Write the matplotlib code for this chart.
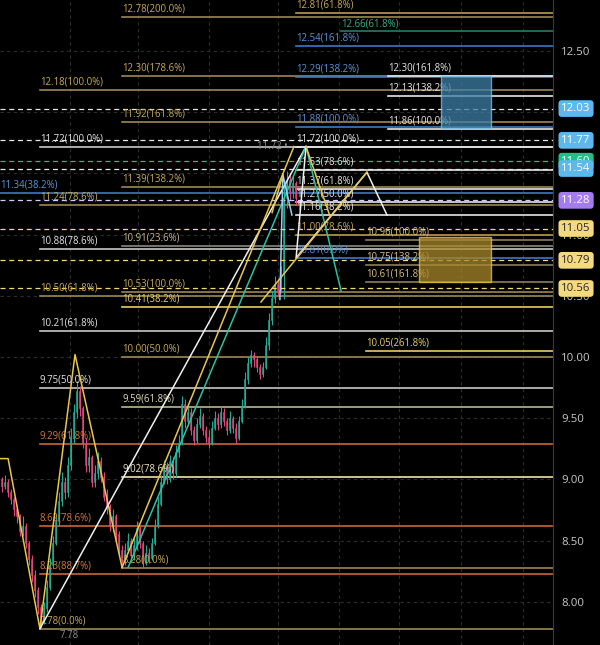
import matplotlib
matplotlib.use("Agg")
import matplotlib.pyplot as plt
from matplotlib.patches import Rectangle

plt.rcParams['font.family'] = ['Open Sans', 'DejaVu Sans']

# ---- candles (one bar = 3 px of the chart) ----
closes = [8.95, 8.98, 8.90, 8.84, 8.76, 8.70, 8.58, 8.62, 8.48, 8.35,
          8.22, 8.10, 7.96, 7.84, 7.95, 8.12, 8.30, 8.48, 8.66, 8.82,
          8.98, 8.90, 9.12, 9.35, 9.55, 9.72, 9.58, 9.30, 9.12, 9.18,
          8.98, 9.05, 9.15, 9.02, 8.86, 8.78, 8.62, 8.70, 8.55, 8.42,
          8.34, 8.42, 8.50, 8.38, 8.46, 8.60, 8.48, 8.32, 8.40, 8.36,
          8.48, 8.62, 8.80, 8.98, 9.10, 9.00, 9.15, 9.05, 9.22, 9.30,
          9.62, 9.48, 9.55, 9.40, 9.32, 9.45, 9.52, 9.40, 9.35, 9.30,
          9.42, 9.50, 9.45, 9.55, 9.48, 9.40, 9.50, 9.42, 9.34, 9.48,
          9.60, 9.82, 9.95, 10.02, 9.98, 9.92, 9.86, 9.92, 10.10, 10.30,
          10.48, 10.60, 10.55, 10.68, 11.30, 11.45, 11.35, 11.42, 11.30]
highs = [9.02, 9.04, 9.00, 8.92, 8.86, 8.78, 8.72, 8.70, 8.64, 8.50,
         8.38, 8.26, 8.12, 7.98, 8.00, 8.18, 8.36, 8.54, 8.72, 8.90,
         9.06, 9.02, 9.18, 9.42, 9.62, 9.80, 9.76, 9.60, 9.34, 9.26,
         9.20, 9.12, 9.22, 9.18, 9.06, 8.92, 8.80, 8.76, 8.72, 8.58,
         8.46, 8.48, 8.56, 8.52, 8.52, 8.66, 8.62, 8.50, 8.46, 8.44,
         8.52, 8.68, 8.86, 9.04, 9.16, 9.14, 9.20, 9.18, 9.28, 9.36,
         9.68, 9.66, 9.60, 9.58, 9.44, 9.50, 9.58, 9.54, 9.44, 9.40,
         9.48, 9.56, 9.54, 9.60, 9.58, 9.50, 9.56, 9.52, 9.46, 9.52,
         9.66, 9.88, 10.00, 10.06, 10.04, 10.00, 9.94, 9.96, 10.16, 10.36,
         10.54, 10.66, 10.64, 10.74, 11.40, 11.52, 11.50, 11.48, 11.44]
lows = [8.90, 8.92, 8.86, 8.80, 8.70, 8.64, 8.54, 8.54, 8.44, 8.30,
        8.16, 8.04, 7.90, 7.78, 7.82, 7.92, 8.10, 8.28, 8.46, 8.62,
        8.78, 8.84, 8.86, 9.08, 9.30, 9.50, 9.52, 9.26, 9.06, 9.06,
        8.94, 8.94, 9.00, 8.98, 8.82, 8.72, 8.58, 8.58, 8.50, 8.38,
        8.28, 8.30, 8.40, 8.34, 8.34, 8.42, 8.44, 8.28, 8.30, 8.32,
        8.34, 8.46, 8.60, 8.78, 8.96, 8.96, 8.98, 9.00, 9.02, 9.18,
        9.28, 9.42, 9.44, 9.36, 9.28, 9.30, 9.42, 9.36, 9.30, 9.26,
        9.28, 9.40, 9.40, 9.42, 9.44, 9.36, 9.38, 9.38, 9.30, 9.32,
        9.46, 9.58, 9.78, 9.92, 9.92, 9.88, 9.82, 9.84, 9.90, 10.06,
        10.26, 10.44, 10.50, 10.52, 10.47, 11.22, 11.28, 11.30, 11.24]
first_open = 9.00

# ---- fibonacci tools: start bar, levels (price, pct) ----
fib_left_white = (13.3, [(11.72, "100.0%"), (10.88, "78.6%"), (10.21, "61.8%"), (9.75, "50.0%")])
fib_left_gold = (13.3, [(12.18, "100.0%"), (11.24, "78.6%"), (10.50, "61.8%"), (7.78, "0.0%")])
fib_left_orange = (13.3, [(9.29, "61.8%"), (8.62, "78.6%"), (8.23, "88.7%")])
fib_mid_gold = (40.7, [(12.78, "200.0%"), (12.30, "178.6%"), (11.92, "161.8%"), (11.39, "138.2%"),
                       (10.53, "100.0%"), (10.00, "50.0%"), (8.28, "0.0%")])
fib_mid_grey = (40.7, [(10.91, "23.6%")])
fib_mid_yellow = (40.7, [(10.41, "38.2%")])
fib_mid_khaki = (40.7, [(9.59, "61.8%")])
fib_mid_cream = (40.7, [(9.02, "78.6%")])
fib_far_blue = (0.0, [(11.34, "38.2%")])
fib_peak_blue = (98.7, [(12.54, "161.8%"), (12.29, "138.2%"), (11.88, "100.0%"), (10.81, "0.0%")])
fib_peak_white = (98.7, [(11.72, "100.0%"), (11.53, "78.6%"), (11.37, "61.8%"), (11.27, "50.0%"),
                         (11.16, "38.2%")])
fib_peak_gold = (98.7, [(12.81, "61.8%"), (11.00, "78.6%")])
fib_teal = (113.7, [(12.66, "61.8%")])
fib_proj_white = (129.3, [(12.30, "161.8%"), (12.13, "138.2%"), (11.86, "100.0%")])
fib_proj_tan = (122.0, [(10.96, "100.0%"), (10.75, "138.2%"), (10.61, "161.8%")])
fib_proj_yellow = (122.0, [(10.05, "261.8%")])

# ---- alert / price lines ----
alert_prices = [12.03, 11.77, 11.60, 11.54, 11.28, 11.05, 10.79, 10.56]
alert_kinds = ["blue", "blue", "green", "blue", "purple", "yellow", "yellow", "yellow"]

# ---- pattern drawings (bar, price) ----
zigzag_left = [(0.0, 9.17), (2.7, 9.17), (13.3, 7.78), (25.0, 10.02), (40.7, 8.28)]
leg_white = [(13.3, 7.78), (102.0, 11.72)]
leg_yellow = [(40.7, 8.28), (98.0, 11.72)]
leg_teal = [(42.7, 8.28), (102.0, 11.72), (113.7, 10.54)]
proj_white = [(102.0, 11.72), (98.7, 10.81), (122.3, 11.51), (129.0, 11.16)]
proj_yellow = [(87.0, 10.45), (122.3, 11.51)]
spike_blue = [(93.3, 10.47), (94.3, 11.49), (97.3, 11.16)]
spike_yellow = [(90.7, 11.18), (94.3, 11.49)]
peak_down_yellow = [(102.0, 11.72), (110.0, 11.15)]

box_blue = (147.0, 163.7, 11.87, 12.30)
box_gold = (139.7, 163.7, 10.61, 10.98)

grid_prices = [12.50, 12.00, 11.50, 11.00, 10.50, 10.00, 9.50, 9.00, 8.50, 8.00]
right_ticks = [12.50, 11.00, 10.50, 10.00, 9.50, 9.00, 8.50, 8.00]
time_grid = [23.3, 46.0, 69.7, 92.7, 113.0, 133.0, 153.7, 174.3]

BG = "black"
UP = "#22ab94"
DN = "#e0457b"
fig = plt.figure(figsize=(6, 6.45), dpi=100, facecolor=BG)
ax = fig.add_axes([0, 0, 553 / 600, 1])
ax.set_facecolor(BG)
x_max = 553 / 3
ax.set_xlim(0, x_max)
ax.set_ylim(7.647, 12.917)

for t in grid_prices:
    ax.axhline(t, color="#2c2c2c", lw=0.8, ls=(0, (3, 3)), zorder=0)
for t in time_grid:
    ax.axvline(t, color="#2c2c2c", lw=0.8, ls=(0, (3, 3)), zorder=0)

# candles
opens = [first_open] + closes[:-1]
for i, (o, c, h, l) in enumerate(zip(opens, closes, highs, lows)):
    col = UP if c >= o else DN
    xc = i + 0.5
    ax.vlines(xc, l, h, color=col, lw=0.8, zorder=3)
    ax.add_patch(Rectangle((xc - 0.3, min(o, c)), 0.6, max(abs(c - o), 0.01),
                           facecolor=col, edgecolor=col, lw=0.4, zorder=3))


def draw_fib(tool, line_col, text_col, lw=1.2):
    start, levels = tool
    for price, pct in levels:
        ax.plot([start, x_max], [price, price], color=line_col, lw=lw, zorder=2)
        ax.text(start, price + 0.02, f"{price:.2f}({pct})", color=text_col,
                fontsize=6.9, va="bottom", ha="left", zorder=5)


draw_fib(fib_far_blue, "#3f78c0", "#5b92d6")
draw_fib(fib_left_gold, "#9c8752", "#c8a95a")
draw_fib(fib_left_white, "#c8c8c8", "#e6e6e6")
draw_fib(fib_left_orange, "#c8643a", "#d4783c")
draw_fib(fib_mid_gold, "#9c8752", "#c8a95a")
draw_fib(fib_mid_grey, "#8c887a", "#c8b890")
draw_fib(fib_mid_yellow, "#e8cc66", "#e8cc66")
draw_fib(fib_mid_khaki, "#b8b890", "#dcdcb4")
draw_fib(fib_mid_cream, "#efe4a8", "#efe4c0")
draw_fib(fib_peak_gold, "#b89a50", "#c8a95a")
draw_fib(fib_peak_blue, "#3f78c0", "#5b92d6")
draw_fib(fib_peak_white, "#e6e6e6", "#e6e6e6")
draw_fib(fib_teal, "#2a7a66", "#3aaa88")
draw_fib(fib_proj_white, "#e6e6e6", "#e6e6e6")
draw_fib(fib_proj_tan, "#8c7f5e", "#d8c080")
draw_fib(fib_proj_yellow, "#e8cc66", "#e8cc66")

# alert lines
alert_line = {"blue": "#e6e6e6", "green": "#26c281", "purple": "#d8c8ff", "yellow": "#f2d97a"}
badge_face = {"blue": "#5db8ec", "green": "#1fbf8a", "purple": "#a57cf0", "yellow": "#f5d97e"}
badge_text = {"blue": "white", "green": "white", "purple": "white", "yellow": "#2a2a2a"}
for p, k in zip(alert_prices, alert_kinds):
    ax.axhline(p, color=alert_line[k], lw=0.9, ls=(0, (4, 3)), zorder=4)

# pattern lines
def poly(pts, col, lw=1.1):
    ax.plot([p[0] for p in pts], [p[1] for p in pts], color=col, lw=lw, zorder=6)


poly(zigzag_left, "#e8c64a")
poly(leg_white, "#f0f0f0")
poly(leg_yellow, "#e8c64a")
poly(leg_teal, "#2fc0a0")
poly(proj_white, "#f0f0f0")
poly(proj_yellow, "#e8c64a")
poly(spike_blue, "#9ad0f0")
poly(spike_yellow, "#e8c64a")
poly(peak_down_yellow, "#e8c64a")

# zones
bx0, bx1, by0, by1 = box_blue
ax.add_patch(Rectangle((bx0, by0), bx1 - bx0, by1 - by0, facecolor="#3d7ea6", alpha=0.75,
                       edgecolor="#7cc4ee", lw=1, zorder=7))
gx0, gx1, gy0, gy1 = box_gold
ax.add_patch(Rectangle((gx0, gy0), gx1 - gx0, gy1 - gy0, facecolor="#a8882a", alpha=0.75,
                       edgecolor="#f0c840", lw=1, zorder=7))

# small price markers
ax.text(96.0, 11.72, "11.72 \u2022", color="#8a8a8a", fontsize=6.9, ha="right", va="center", zorder=8)
ax.text(20.0, 7.77, "7.78", color="#8a8a8a", fontsize=6.9, ha="left", va="top", zorder=8)

# right axis
ax.yaxis.tick_right()
ax.set_yticks(right_ticks)
ax.set_yticklabels([f"{t:.2f}" for t in right_ticks], color="#c8c8c8", fontsize=8.2)
ax.tick_params(axis="y", length=0, pad=6)
ax.set_xticks([])
for s in ["top", "bottom", "left"]:
    ax.spines[s].set_visible(False)
ax.spines["right"].set_color("#3a3a3a")

for p, k in zip(alert_prices, alert_kinds):
    ax.annotate(f"{p:.2f}", xy=(1.0, p), xycoords=("axes fraction", "data"),
                xytext=(6, 0), textcoords="offset points", va="center", ha="left",
                fontsize=8.2, color=badge_text[k], zorder=10, annotation_clip=False,
                bbox=dict(boxstyle="round,pad=0.25,rounding_size=0.3", fc=badge_face[k], ec="none"))

fig.savefig("out.png", dpi=100, facecolor=BG)
